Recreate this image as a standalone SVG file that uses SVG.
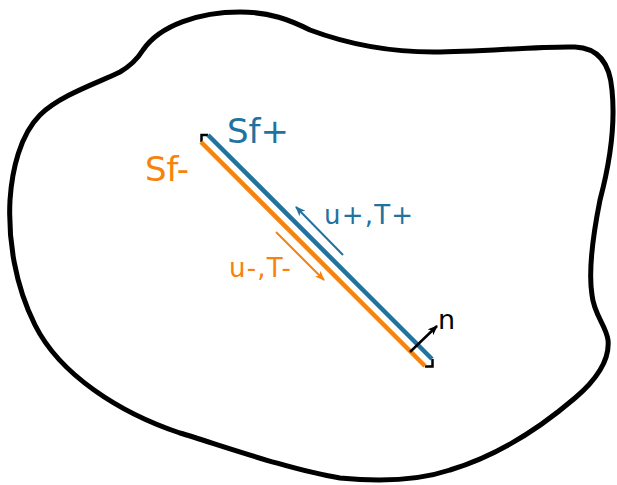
<svg xmlns="http://www.w3.org/2000/svg" width="617" height="485" viewBox="0 0 617 485">
<style>
.blob{fill:none;stroke:#000;stroke-width:5;stroke-linejoin:round}
.blue{stroke:#21729f;fill:none}
.orange{stroke:#f7820c;fill:none}
.face{stroke-width:4.5;stroke-linecap:butt}
.arr{stroke-width:2}
.tip{stroke:#000;stroke-width:2.5;fill:none}
.lbl{font-family:"DejaVu Sans",Verdana,sans-serif}
</style>
<defs>
<marker id="hb" viewBox="0 0 10 8" refX="9" refY="4" markerWidth="10" markerHeight="8" markerUnits="userSpaceOnUse" orient="auto">
<path d="M0,0 L10,4 L0,8 L2.5,4 Z" fill="#21729f"/>
</marker>
<marker id="ho" viewBox="0 0 10 8" refX="9" refY="4" markerWidth="10" markerHeight="8" markerUnits="userSpaceOnUse" orient="auto">
<path d="M0,0 L10,4 L0,8 L2.5,4 Z" fill="#f7820c"/>
</marker>
<marker id="hk" viewBox="0 0 10 8" refX="9" refY="4" markerWidth="10" markerHeight="8" markerUnits="userSpaceOnUse" orient="auto">
<path d="M0,0 L10,4 L0,8 L2.5,4 Z" fill="#000"/>
</marker>
</defs>
<g id="domain">
<path class="blob" d="M143,50 C160,25 200,12 240,12 C270,12 290,20 310,30 C350,45 390,52 434,52 C480,52 540,46 575,47 C600,48 610,65 612,90 C616,130 608,170 600,200 C594,230 588,270 592,295 C594,315 606,325 608,340 C610,360 596,380 575,398 C540,428 500,455 450,470 C420,480 380,482 340,478 C290,470 220,445 180,433 C120,413 60,375 35,325 C15,285 8,240 10,200 C12,170 20,135 40,115 C60,95 100,82 120,72 C132,65 138,58 143,50 Z"/>
</g>
<g id="fault">
<path class="tip" d="M208,135 H201.5 V142"/>
<path class="tip" d="M432.5,359 V366.5 H425"/>
<line class="blue face" x1="208" y1="135" x2="432" y2="359"/>
<line class="orange face" x1="201" y1="142" x2="425" y2="366"/>
</g>
<g id="connectors">
<line class="blue arr" x1="343" y1="255" x2="296" y2="207" marker-end="url(#hb)"/>
<line class="orange arr" x1="276" y1="232" x2="324" y2="280" marker-end="url(#ho)"/>
<line stroke="#000" stroke-width="2.5" x1="410" y1="352" x2="437" y2="326" marker-end="url(#hk)"/>
</g>
<g id="labels">
<text class="lbl" x="227" y="143" font-size="34" fill="#21729f">Sf+</text>
<text class="lbl" x="145" y="181" font-size="34" fill="#f7820c">Sf-</text>
<text class="lbl" x="324" y="224" font-size="26" letter-spacing="1.2" fill="#21729f">u+,T+</text>
<text class="lbl" x="229" y="277" font-size="26" letter-spacing="1.2" fill="#f7820c">u-,T-</text>
<text class="lbl" x="438" y="329" font-size="27" fill="#000">n</text>
</g>
</svg>
